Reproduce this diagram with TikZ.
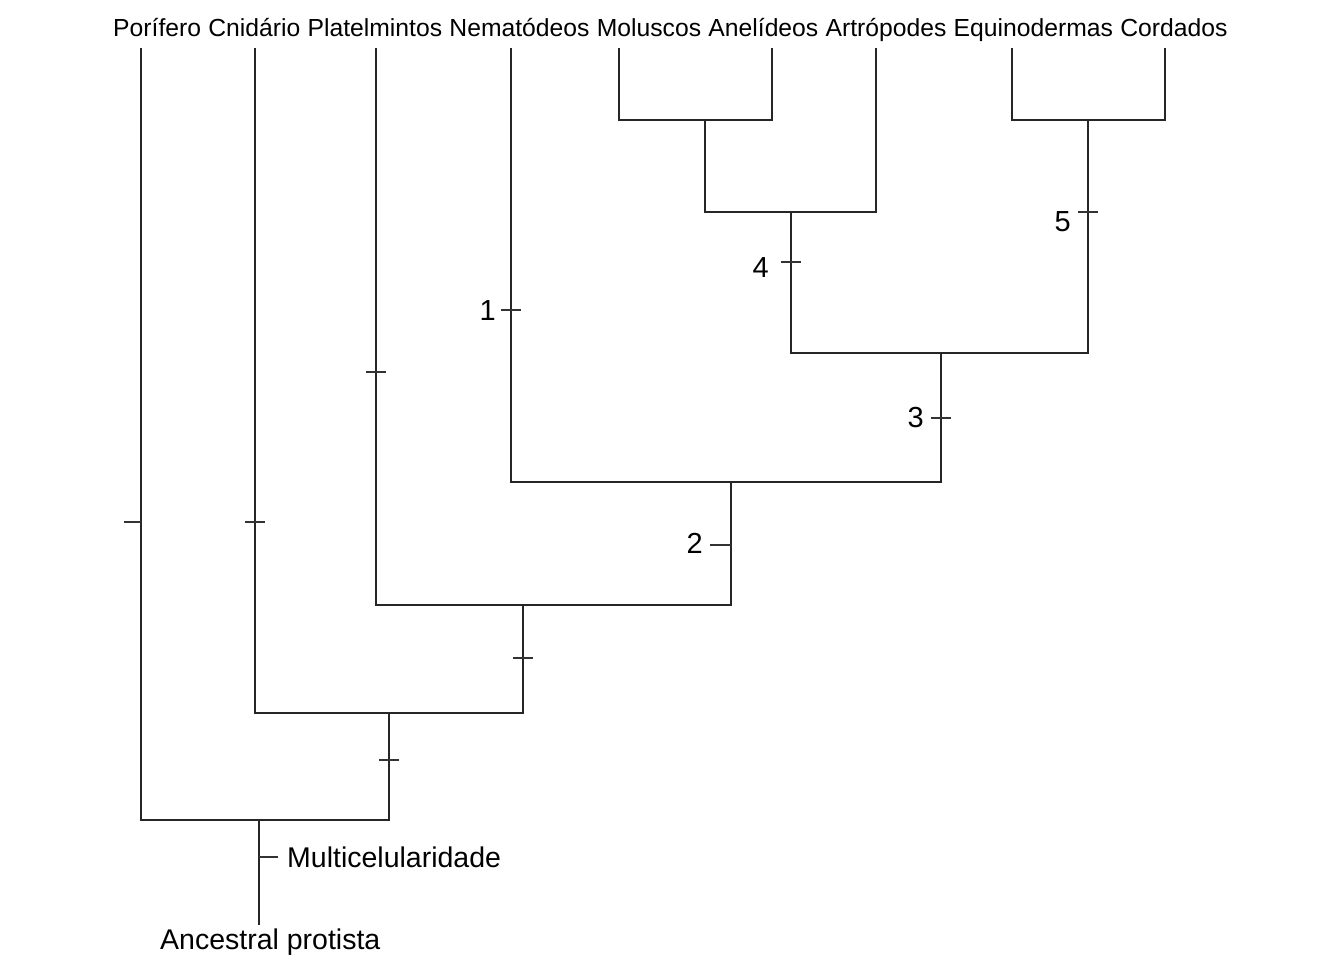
\documentclass[tikz,border=0pt]{standalone}
\usepackage{fontspec}
\setmainfont{Liberation Sans}
\usetikzlibrary{calc}
\begin{document}
\begin{tikzpicture}[x=1pt,y=-1pt,
  branch/.style={draw=black!85,line width=1.7pt,line join=miter},
  tickmark/.style={draw=black!80,line width=1.5pt},
  toplab/.style={inner sep=0pt,font=\fontsize{24.7}{28}\selectfont,anchor=base west},
  numlab/.style={inner sep=0pt,font=\fontsize{29}{32}\selectfont,anchor=east},
  botlab/.style={inner sep=0pt,font=\fontsize{28.5}{32}\selectfont,anchor=base west}]
\useasboundingbox (0,0) rectangle (1326,956);
% taxon labels
\node[toplab] (Lpor) at (113,36) {Porífero};
\node[toplab] (Lcni) at ([xshift=6.9pt]Lpor.base east) {Cnidário};
\node[toplab] (Lpla) at ([xshift=6.9pt]Lcni.base east) {Platelmintos};
\node[toplab] (Lnem) at ([xshift=6.9pt]Lpla.base east) {Nematódeos};
\node[toplab] (Lmol) at ([xshift=6.9pt]Lnem.base east) {Moluscos};
\node[toplab] (Lane) at ([xshift=6.9pt]Lmol.base east) {Anelídeos};
\node[toplab] (Lart) at ([xshift=6.9pt]Lane.base east) {Artrópodes};
\node[toplab] (Lequ) at ([xshift=6.9pt]Lart.base east) {Equinodermas};
\node[toplab] (Lcor) at ([xshift=6.9pt]Lequ.base east) {Cordados};
% leaf tops
\coordinate (por) at (141,48);
\coordinate (cni) at (255,48);
\coordinate (pla) at (376,48);
\coordinate (nem) at (511,48);
\coordinate (mol) at (619,48);
\coordinate (ane) at (772,48);
\coordinate (art) at (876,48);
\coordinate (equ) at (1012,48);
\coordinate (cor) at (1165,48);
% internal junctions
\coordinate (n1) at (705,120);
\coordinate (n2) at (791,212);
\coordinate (n3) at (1088,120);
\coordinate (n4) at (941,353);
\coordinate (n5) at (731,482);
\coordinate (n6) at (523,605);
\coordinate (n7) at (389,713);
\coordinate (n8) at (259,820);
\coordinate (root) at (259,925);
% tree
\draw[branch] (mol) |- (n1) -| (ane);
\draw[branch] (n1) |- (n2) -| (art);
\draw[branch] (equ) |- (n3) -| (cor);
\draw[branch] (n2) |- (n4) -| (n3);
\draw[branch] (nem) |- (n5) -| (n4);
\draw[branch] (pla) |- (n6) -| (n5);
\draw[branch] (cni) |- (n7) -| (n6);
\draw[branch] (por) |- (n8) -| (n7);
\draw[branch] (n8) -- (root);
% tick marks
\coordinate (tpor) at (141,522);
\coordinate (tcni) at (255,522);
\coordinate (tpla) at (376,372);
\coordinate (t1) at (511,310);
\coordinate (t4) at (791,262);
\coordinate (t5) at (1088,212);
\coordinate (t3) at (941,418);
\coordinate (t2) at (731,545);
\coordinate (t6) at (523,658);
\coordinate (t7) at (389,760);
\coordinate (tm) at (259,857);
\draw[tickmark] ([xshift=-17pt]tpor) -- (tpor);
\foreach \t in {tcni,tpla,t1,t4,t5,t3,t6,t7}
  \draw[tickmark] ([xshift=-10pt]\t) -- ([xshift=10pt]\t);
\draw[tickmark] ([xshift=-21pt]t2) -- (t2);
\draw[tickmark] (tm) -- ([xshift=19pt]tm);
% character labels
\node[numlab] (c1) at (496,311) {1};
\node[numlab] (c2) at (703,543) {2};
\node[numlab] (c3) at (924,418) {3};
\node[numlab] (c4) at (769,268) {4};
\node[numlab] (c5) at (1071,222) {5};
\node[botlab] (mult) at (287,867) {Multicelularidade};
\node[botlab] (anc) at (160,949) {Ancestral protista};
\end{tikzpicture}
\end{document}
